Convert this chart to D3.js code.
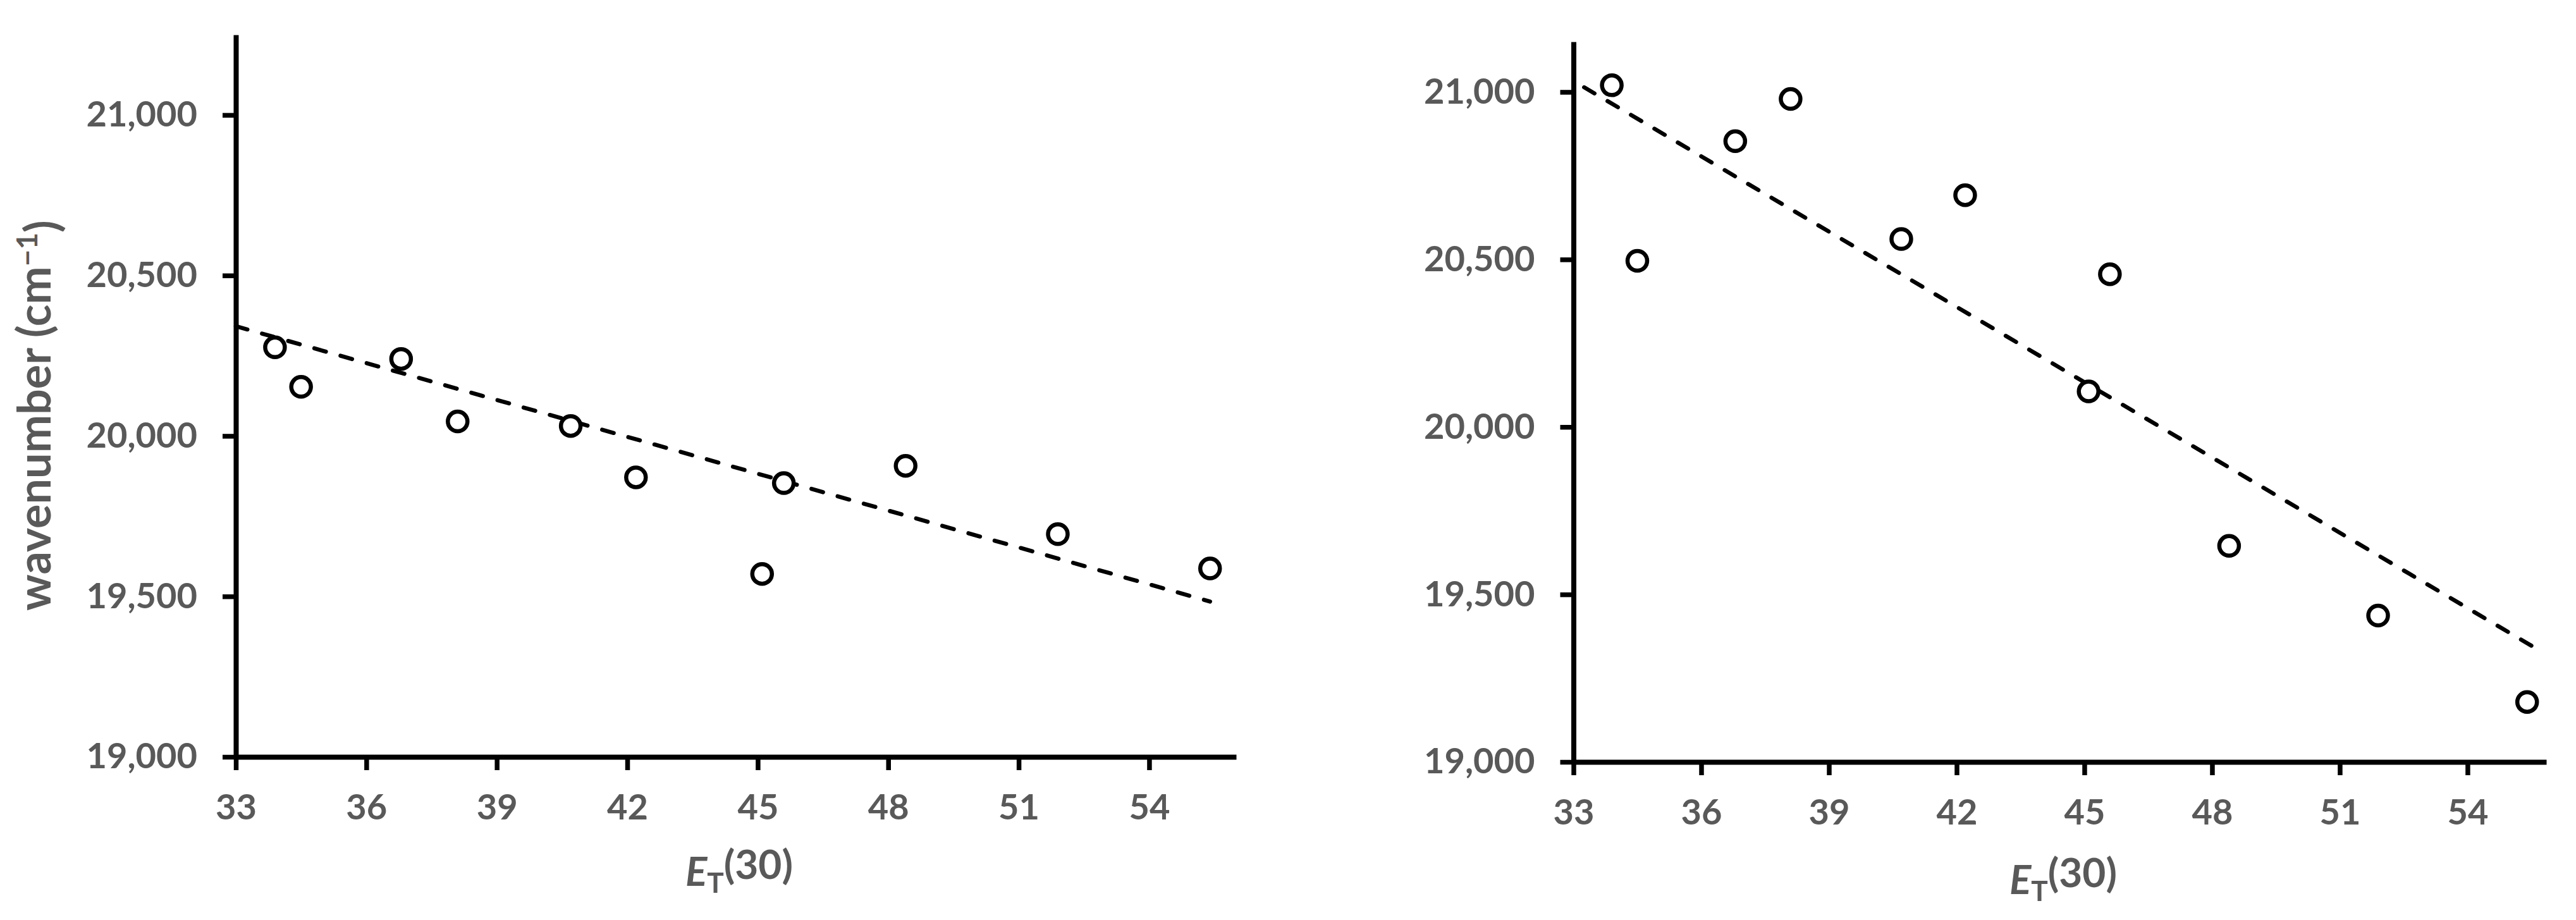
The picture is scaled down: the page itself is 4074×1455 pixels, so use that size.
<!DOCTYPE html>
<html><head><meta charset="utf-8">
<script src="https://cdn.jsdelivr.net/npm/d3@7"></script>
<style>body{margin:0;background:#fff} svg{display:block}</style>
</head><body><svg id="c" width="4074" height="1455"></svg>
<script>
// ---- data ----
const xTicks = [33, 36, 39, 42, 45, 48, 51, 54];
const yTicks = [19000, 19500, 20000, 20500, 21000];
const et30 = [33.9, 34.5, 36.8, 38.1, 40.7, 42.2, 45.1, 45.6, 48.4, 51.9, 55.4];
const wavenumberLeft  = [20276, 20153, 20240, 20045, 20031, 19871, 19570, 19853, 19907, 19694, 19587];
const wavenumberRight = [21020, 20496, 20853, 20979, 20561, 20692, 20106, 20456, 19645, 19437, 19179];
const trendLeftX  = [33, 55.4];
const trendLeftY  = [20342, 19484];
const trendRightX = [33.25, 55.5];
const trendRightY = [21014, 19347];
const yTitle = "wavenumber (cm";
const xTitleMain = "(30)";

// ---- layout ----
const panels = [
  {xd:[33,56],    xr:[373,1955],    yd:[19000,21250], yr:[1197,55],
   ys:wavenumberLeft,  tx:trendLeftX,  ty:trendLeftY,  titleX:1169, titleY:1401, showY:true},
  {xd:[33,55.85], xr:[2488.5,4027], yd:[19000,21150], yr:[1205,66],
   ys:wavenumberRight, tx:trendRightX, ty:trendRightY, titleX:3263, titleY:1414, showY:false}
];
const svg = d3.select("#c");
const FONT = "Lato, 'Open Sans', sans-serif";
const GRAY = "#595959";
const fmt = d3.format(",");

panels.forEach(p => {
  const x = d3.scaleLinear().domain(p.xd).range(p.xr);
  const y = d3.scaleLinear().domain(p.yd).range(p.yr);
  const g = svg.append("g");

  const ya = g.append("g").attr("transform", `translate(${p.xr[0]},0)`)
    .call(d3.axisLeft(y).tickValues(yTicks).tickFormat(fmt).tickSizeInner(21).tickSizeOuter(0).tickPadding(40));
  const xa = g.append("g").attr("transform", `translate(0,${p.yr[0]})`)
    .call(d3.axisBottom(x).tickValues(xTicks).tickFormat(d3.format("d")).tickSizeInner(21).tickSizeOuter(0).tickPadding(38));
  [ya, xa].forEach(a => {
    a.select(".domain").attr("stroke", "#000").attr("stroke-width", 8);
    a.selectAll(".tick line").attr("stroke", "#000").attr("stroke-width", 7.5);
    a.selectAll(".tick text").attr("fill", GRAY).style("font-family", FONT)
      .style("font-weight", 700).style("font-size", "56px");
  });

  // trend line
  const pts = p.tx.map((v, i) => [v, p.ty[i]]);
  g.append("path").datum(pts)
    .attr("d", d3.line().x(d => x(d[0])).y(d => y(d[1])))
    .attr("fill", "none").attr("stroke", "#000").attr("stroke-width", 6.5)
    .attr("stroke-dasharray", "19,24").attr("stroke-linecap", "round");

  // markers
  g.selectAll("circle").data(et30.map((v, i) => [v, p.ys[i]])).join("circle")
    .attr("cx", d => x(d[0])).attr("cy", d => y(d[1])).attr("r", 15.5)
    .attr("fill", "#fff").attr("stroke", "#000").attr("stroke-width", 6.5);

  // x title
  const t = g.append("text").attr("x", p.titleX).attr("y", p.titleY)
    .attr("text-anchor", "middle").attr("fill", GRAY)
    .style("font-family", FONT).style("font-weight", 700).style("font-size", "64px");
  t.append("tspan").text("E").style("font-style", "italic");
  t.append("tspan").text("T").attr("dy", "0.25em").style("font-size", "44px");
  t.append("tspan").text(xTitleMain).attr("dy", "-0.35em");

  if (p.showY) {
    const yt = g.append("text").attr("transform", "translate(80,657) rotate(-90)")
      .attr("text-anchor", "middle").attr("fill", GRAY)
      .style("font-family", FONT).style("font-weight", 700).style("font-size", "72px");
    yt.append("tspan").text(yTitle);
    yt.append("tspan").text("\u22121").attr("dy", "-0.45em").style("font-size", "46px");
    yt.append("tspan").text(")").attr("dy", "0.45em");
  }
});
</script></body></html>
